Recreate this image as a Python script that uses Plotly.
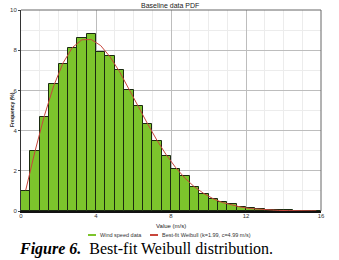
import plotly.graph_objects as go

bin_centers = [0.25, 0.75, 1.25, 1.75, 2.25, 2.75, 3.25, 3.75, 4.25, 4.75, 5.25, 5.75,
               6.25, 6.75, 7.25, 7.75, 8.25, 8.75, 9.25, 9.75, 10.25, 10.75, 11.25, 11.75,
               12.25, 12.75, 13.25, 13.75, 14.25, 14.75, 15.25, 15.75]
wind_freq = [1.0, 3.0, 4.7, 6.3, 7.3, 8.1, 8.6, 8.8, 7.9, 7.7, 7.0, 6.0,
             5.2, 4.35, 3.5, 2.75, 2.1, 1.72, 1.2, 0.83, 0.6, 0.47, 0.35, 0.22,
             0.14, 0.1, 0.06, 0.05, 0.03, 0.02, 0.01, 0.01]
weibull_fit = [1.03, 2.98, 4.75, 6.24, 7.38, 8.14, 8.52, 8.53, 8.23, 7.67, 6.94, 6.10,
               5.21, 4.34, 3.52, 2.79, 2.16, 1.63, 1.20, 0.87, 0.61, 0.42, 0.29, 0.19,
               0.12, 0.08, 0.05, 0.03, 0.02, 0.01, 0.006, 0.003]
x_ticks = [0, 4, 8, 12, 16]
y_ticks = [0, 2, 4, 6, 8, 10]
series_names = ["Wind speed data", "Best-fit Weibull (k=1.99, c=4.99 m/s)"]
series_colors = ["#7cc42c", "#c8463c"]

# plot area in pixels
L, R, T, B = 21, 18, 10, 49
W, H = 339, 260
PW, PH = W - L - R, H - T - B


def px(x):
    return (x - L) / PW


def py(y):
    return (H - B - y) / PH


fig = go.Figure()
fig.add_trace(go.Bar(
    x=bin_centers, y=wind_freq, width=0.5, name=series_names[0],
    marker=dict(color=series_colors[0], line=dict(color="#1b2a10", width=1)),
))
fig.add_trace(go.Scatter(
    x=bin_centers, y=weibull_fit, mode="lines", name=series_names[1],
    line=dict(color=series_colors[1], width=1),
))

sans = "Liberation Sans, Arial"
axis_font = dict(family=sans, size=6, color="#333")
fig.update_layout(
    width=W, height=H,
    margin=dict(l=L, r=R, t=T, b=B),
    paper_bgcolor="white", plot_bgcolor="white",
    bargap=0,
    showlegend=False,
    xaxis=dict(range=[0, 16], tickvals=x_ticks, ticktext=[str(v) for v in x_ticks],
               tickfont=axis_font, showgrid=True, gridcolor="#bdbdbd", gridwidth=1,
               minor=dict(dtick=1, showgrid=True, gridcolor="#ececec", gridwidth=1),
               showline=True, linecolor="#111", linewidth=2, mirror=False,
               ticks="", ticklabelstandoff=-2, zeroline=False, automargin=False),
    yaxis=dict(range=[0, 10], tickvals=y_ticks, ticktext=[str(v) for v in y_ticks],
               tickfont=axis_font, showgrid=True, gridcolor="#bdbdbd", gridwidth=1,
               minor=dict(dtick=1, showgrid=True, gridcolor="#ececec", gridwidth=1),
               showline=True, linecolor="#333", linewidth=1, mirror=False,
               ticks="outside", ticklen=2, tickcolor="#444", zeroline=False, automargin=False),
)
# frame on top and right
fig.add_shape(type="line", xref="paper", yref="paper", x0=0, y0=1, x1=1, y1=1,
              line=dict(color="#666", width=1), layer="above")
fig.add_shape(type="line", xref="paper", yref="paper", x0=1, y0=0, x1=1, y1=1,
              line=dict(color="#666", width=1), layer="above")

# title
fig.add_annotation(xref="paper", yref="paper", x=px(170), y=py(5), yanchor="middle",
                   showarrow=False,
                   text="Baseline data PDF", font=dict(family=sans, size=7, color="#222"))
# axis titles
fig.add_annotation(xref="paper", yref="paper", x=px(171), y=py(226), yanchor="middle",
                   showarrow=False,
                   text="Value (m/s)", font=dict(family=sans, size=6, color="#222"))
fig.add_annotation(xref="paper", yref="paper", x=px(7), y=py(110), yanchor="middle",
                   showarrow=False, textangle=-90, text="<b>Frequency (%)</b>",
                   font=dict(family=sans, size=5, color="#222"))

# legend (manual)
leg_y = py(235)
leg_items = [(88, 98), (150, 160)]
for (lx, tx), name, col in zip(leg_items, series_names, series_colors):
    fig.add_shape(type="line", xref="paper", yref="paper", x0=px(lx), x1=px(lx + 8),
                  y0=leg_y, y1=leg_y, line=dict(color=col, width=2))
    fig.add_annotation(xref="paper", yref="paper", x=px(tx), y=leg_y, xanchor="left",
                       yanchor="middle", showarrow=False, text=name,
                       font=dict(family=sans, size=5.5, color="#333"))

# caption
fig.add_annotation(xref="paper", yref="paper", x=px(17), y=py(249), xanchor="left",
                   yanchor="middle", showarrow=False,
                   text="<b><i>Figure 6.</i></b>  Best-fit Weibull distribution.",
                   font=dict(family="Liberation Serif, Times New Roman", size=16, color="#000"))

fig.write_html("out.html", config={"displayModeBar": False},
               post_script="document.body.style.margin='0px';")
